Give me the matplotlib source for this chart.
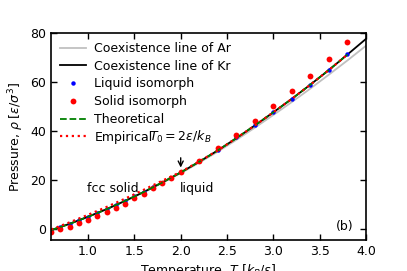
import matplotlib
matplotlib.use("Agg")
import matplotlib.pyplot as plt
import numpy as np

# Coexistence lines
T_line = [0.6, 0.8, 1.0, 1.2, 1.4, 1.6, 1.8, 2.0, 2.2, 2.4, 2.6, 2.8, 3.0, 3.2, 3.4, 3.6, 3.8, 4.0]
p_kr = [-0.6, 2.0, 4.9, 8.0, 11.4, 15.0, 18.9, 23.0, 27.4, 32.0, 37.0, 42.2, 47.6, 53.1, 58.9, 64.9, 71.2, 77.6]
p_ar = [-0.6, 2.0, 4.9, 8.0, 11.3, 14.9, 18.7, 22.7, 27.0, 31.5, 36.3, 41.3, 46.5, 51.8, 57.3, 63.0, 68.8, 74.8]

# Theoretical / empirical curves
T_theo = [0.6, 0.8, 1.0, 1.2, 1.4, 1.6, 1.8, 2.0, 2.2, 2.4, 2.6, 2.8, 3.0, 3.2, 3.4, 3.6, 3.8]
p_theo = [-0.6, 2.0, 4.9, 8.0, 11.4, 15.0, 18.9, 23.0, 27.4, 32.0, 37.0, 42.2, 47.6, 53.1, 58.9, 64.9, 71.2]
T_emp = [0.6, 0.8, 1.0, 1.2, 1.4, 1.6, 1.8, 2.0, 2.2, 2.4, 2.6, 2.8, 3.0, 3.2, 3.4, 3.6, 3.8]
p_emp = [-0.3, 2.6, 5.7, 8.9, 12.3, 15.9, 19.6, 23.2, 27.5, 32.0, 37.0, 42.2, 47.6, 53.1, 58.9, 64.9, 71.2]

# Liquid isomorph
T_liq = [0.6, 0.7, 0.8, 0.9, 1.0, 1.1, 1.2, 1.3, 1.4, 1.5, 1.6, 1.7, 1.8, 1.9, 2.0,
         2.2, 2.4, 2.6, 2.8, 3.0, 3.2, 3.4, 3.6, 3.8]
p_liq = [-0.6, 0.7, 2.0, 3.4, 4.9, 6.4, 8.0, 9.7, 11.4, 13.2, 15.0, 16.9, 18.9, 20.9, 23.0,
         27.5, 32.1, 37.3, 42.3, 47.6, 53.1, 58.9, 64.9, 71.3]

# Solid isomorph
T_sol = [0.6, 0.7, 0.8, 0.9, 1.0, 1.1, 1.2, 1.3, 1.4, 1.5, 1.6, 1.7, 1.8, 1.9, 2.0,
         2.2, 2.4, 2.6, 2.8, 3.0, 3.2, 3.4, 3.6, 3.8]
p_sol = [-1.4, -0.3, 0.8, 2.4, 3.5, 5.2, 6.7, 8.4, 10.3, 12.4, 14.4, 16.5, 18.5, 20.7, 23.0,
         27.8, 33.1, 38.5, 44.1, 50.1, 56.3, 62.6, 69.4, 76.3]

FS = 9
plt.rcParams['font.size'] = FS
plt.rcParams['mathtext.fontset'] = 'dejavusans'

fig = plt.figure(figsize=(4.07, 2.71), dpi=100)
ax = fig.add_axes([51/407, (271-240)/271, (366-51)/407, (240-33)/271])

ax.plot(T_line, p_ar, color='#c0c0c0', lw=1.3, label='Coexistence line of Ar')
ax.plot(T_line, p_kr, color='black', lw=1.3, label='Coexistence line of Kr')
ax.plot(T_liq, p_liq, 'o', color='blue', ms=3.2, mec='none', label='Liquid isomorph')
ax.plot(T_sol, p_sol, 'o', color='red', ms=4.2, mec='none', label='Solid isomorph')
ax.plot(T_theo, p_theo, '--', color='green', lw=1.3, label='Theoretical')
ax.plot(T_emp, p_emp, ':', color='red', lw=1.6, label='Empirical')

ax.set_xlim(0.6, 4.0)
ax.set_ylim(-4.6, 80)
ax.set_xticks([1.0, 1.5, 2.0, 2.5, 3.0, 3.5, 4.0])
ax.set_yticks([0, 20, 40, 60, 80])
ax.tick_params(direction='in', top=True, right=True, length=4, width=1, labelsize=FS, pad=3.5)
for s in ax.spines.values():
    s.set_linewidth(1.2)

ax.set_xlabel(r'Temperature, $T$ [$k_B/\varepsilon$]', fontsize=FS, labelpad=3)
ax.set_ylabel(r'Pressure, $\rho$ [$\varepsilon/\sigma^3$]', fontsize=FS, labelpad=3)

ax.annotate(r'$T_0 = 2\varepsilon/k_B$', xy=(2.0, 25.0), xytext=(2.0, 37.4),
            ha='center', va='center', fontsize=FS,
            arrowprops=dict(arrowstyle='->', color='black', lw=1, shrinkA=7, shrinkB=0))
ax.text(1.27, 16.6, 'fcc solid', ha='center', va='center', fontsize=FS)
ax.text(2.18, 16.6, 'liquid', ha='center', va='center', fontsize=FS)
ax.text(3.77, 1.0, '(b)', ha='center', va='center', fontsize=FS)

ax.legend(loc='upper left', frameon=False, fontsize=FS, handlelength=2.1,
          labelspacing=0.38, borderaxespad=0.35, handletextpad=0.64, borderpad=0.37)

fig.savefig('out.png', dpi=100)
